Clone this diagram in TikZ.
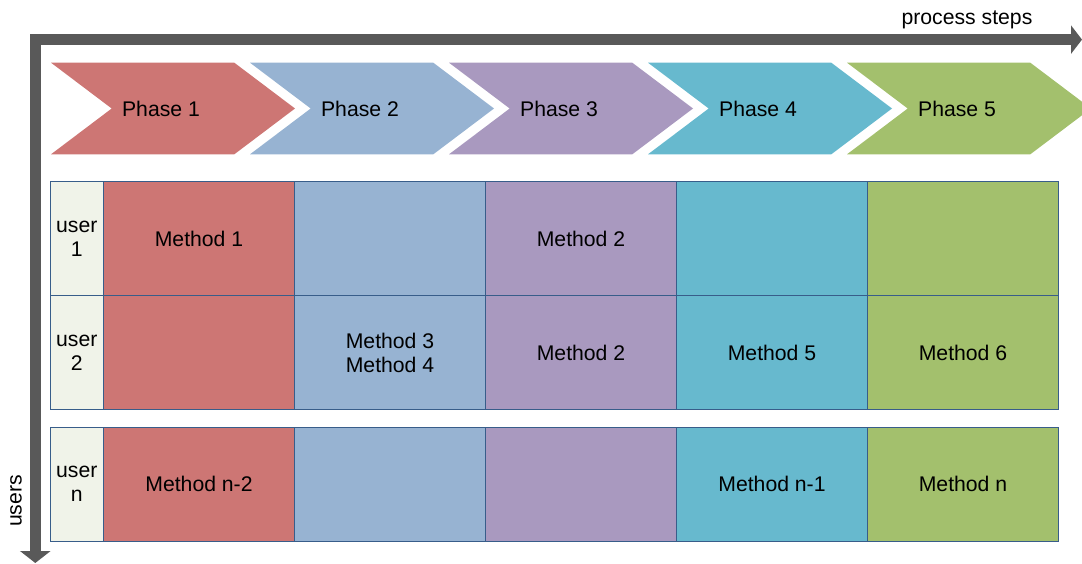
\documentclass[tikz,border=0pt]{standalone}
\usepackage{fontspec}
\setmainfont{Liberation Sans}
\usetikzlibrary{arrows.meta}
\definecolor{phred}{RGB}{205,118,116}
\definecolor{phblue}{RGB}{151,179,210}
\definecolor{phpurple}{RGB}{169,153,191}
\definecolor{phteal}{RGB}{103,185,206}
\definecolor{phgreen}{RGB}{163,192,109}
\definecolor{userbg}{RGB}{240,243,233}
\definecolor{gridline}{RGB}{56,93,138}
\definecolor{axisgray}{RGB}{89,89,89}
\tikzset{
  txt/.style={font=\fontsize{21.2}{24.5}\selectfont, text=black, align=center, inner sep=0pt},
  axisline/.style={draw=axisgray, line width=11pt, miter limit=10,
    {Triangle[length=12pt,width=30pt]}-{Triangle[length=11pt,width=28pt]}},
  cell/.style={draw=gridline, line width=0.9pt, minimum height=114pt, inner sep=0pt, txt},
  usercell/.style={cell, fill=userbg, minimum width=53.5pt},
  methodcell/.style={cell, minimum width=191pt},
}
\begin{document}
\begin{tikzpicture}[x=1pt,y=-1pt]
\useasboundingbox (0,0) rectangle (1082,563);
\clip (0,0) rectangle (1082,563);

% axes
\coordinate (ybot) at (35.3,563);
\coordinate (corner) at (35.3,39.6);
\coordinate (xend) at (1082,39.6);
\draw[axisline] (ybot) -- (corner) -- (xend);
\node[txt, anchor=center] (xlabel) at (967,20) {process steps};
\node[txt, rotate=90, anchor=center] (ylabel) at (16,501) {users};

% phase chevrons
\foreach \i/\c/\t in {0/phred/Phase 1,1/phblue/Phase 2,2/phpurple/Phase 3,3/phteal/Phase 4,4/phgreen/Phase 5}{
  \pgfmathsetmacro{\L}{51+199*\i}
  \fill[\c] (\L,62.7) -- (\L+183.3,62.7) -- (\L+244,108.5) -- (\L+183.3,154.3)
            -- (\L,154.3) -- (\L+60.7,108.5) -- cycle;
  \node[txt] (phase\i) at (\L+110,108.5) {\t};
}

% user rows
\foreach \r/\y/\u in {1/238.7/{user\\1},2/352.7/{user\\2},3/484/{user\\n}}{
  \node[usercell] (u\r) at (76.75,\y) {\u};
}
% row 1
\node[methodcell, fill=phred]    (c11) at (199,238.7) {Method 1};
\node[methodcell, fill=phblue]   (c12) at (390,238.7) {};
\node[methodcell, fill=phpurple] (c13) at (581,238.7) {Method 2};
\node[methodcell, fill=phteal]   (c14) at (772,238.7) {};
\node[methodcell, fill=phgreen]  (c15) at (963,238.7) {};
% row 2
\node[methodcell, fill=phred]    (c21) at (199,352.7) {};
\node[methodcell, fill=phblue]   (c22) at (390,352.7) {Method 3\\Method 4};
\node[methodcell, fill=phpurple] (c23) at (581,352.7) {Method 2};
\node[methodcell, fill=phteal]   (c24) at (772,352.7) {Method 5};
\node[methodcell, fill=phgreen]  (c25) at (963,352.7) {Method 6};
% row n
\node[methodcell, fill=phred]    (c31) at (199,484) {Method n-2};
\node[methodcell, fill=phblue]   (c32) at (390,484) {};
\node[methodcell, fill=phpurple] (c33) at (581,484) {};
\node[methodcell, fill=phteal]   (c34) at (772,484) {Method n-1};
\node[methodcell, fill=phgreen]  (c35) at (963,484) {Method n};
\end{tikzpicture}
\end{document}
